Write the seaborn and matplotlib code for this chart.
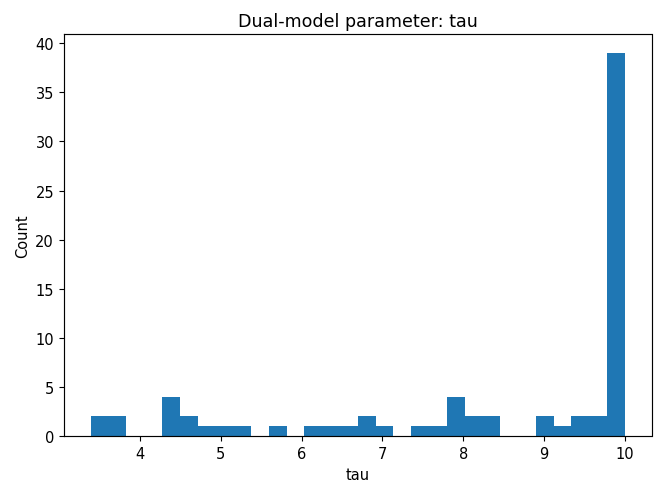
import numpy as np
import pandas as pd
import matplotlib
matplotlib.use("Agg")
import matplotlib.pyplot as plt
import seaborn as sns

# histogram: 30 equal bins between lo and hi
bin_lo = 3.39
bin_hi = 10.0
counts = [2, 2, 0, 0, 4, 2, 1, 1, 1, 0,
          1, 0, 1, 1, 1, 2, 1, 0, 1, 1,
          4, 2, 2, 0, 0, 2, 1, 2, 2, 39]

edges = np.linspace(bin_lo, bin_hi, len(counts) + 1)
centers = (edges[:-1] + edges[1:]) / 2
df = pd.DataFrame({"tau": centers, "count": counts})

s = 1.05
plt.rcParams.update({
    "font.size": 10 * s,
    "axes.titlesize": 12 * s,
    "axes.labelsize": 10 * s,
    "xtick.labelsize": 10 * s,
    "ytick.labelsize": 10 * s,
    "xtick.major.size": 3.5 * s,
    "ytick.major.size": 3.5 * s,
    "axes.linewidth": 0.8 * s,
})

fig = plt.figure(figsize=(6.61, 4.81), dpi=100)
ax = fig.add_axes([64/661, 1 - 437/481, (651.5-64)/661, (437-35)/481])
sns.histplot(data=df, x="tau", weights="count", bins=list(edges), ax=ax,
             color="#1f77b4", alpha=1.0, linewidth=0, edgecolor="none")
ax.set_title("Dual-model parameter: tau")
ax.set_xlabel("tau")
ax.set_ylabel("Count")
ax.set_xticks([4, 5, 6, 7, 8, 9, 10])
ax.set_yticks(range(0, 41, 5))
ax.set_xlim(bin_lo - 0.05 * (bin_hi - bin_lo), bin_hi + 0.05 * (bin_hi - bin_lo))
ax.set_ylim(0, 39 * 1.05)
fig.savefig("out.png", dpi=100)
